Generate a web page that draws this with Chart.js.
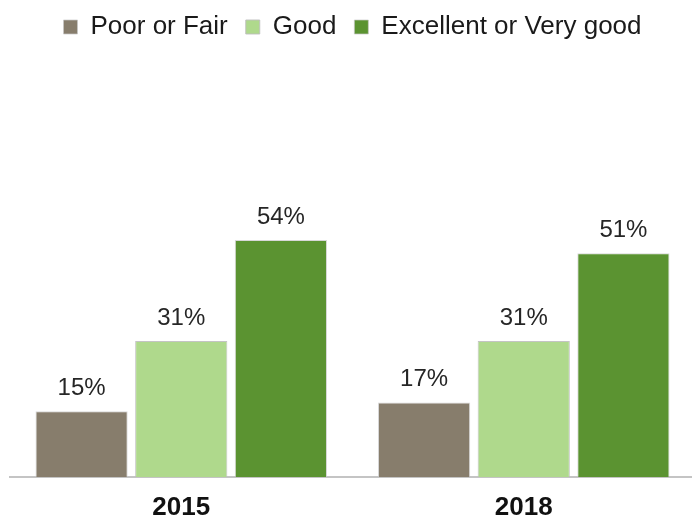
<!DOCTYPE html>
<html>
<head>
<meta charset="utf-8">
<script src="https://cdn.jsdelivr.net/npm/chart.js@4/dist/chart.umd.min.js"></script>
<style>
  html, body { margin: 0; padding: 0; background: #fff; overflow: hidden; }
  .wrap { width: 692px; height: 519px; overflow: hidden; }
</style>
</head>
<body>
<div class="wrap"><canvas id="healthChart" width="695" height="519"></canvas></div>
<script>
// Données
const years = ['2015', '2018'];
const poorOrFair = [15, 17];
const good = [31, 31];
const excellentOrVeryGood = [54, 51];

// Étiquettes au-dessus des barres
const valueLabels = {
    id: 'valueLabels',
    afterDatasetsDraw(chart) {
        const ctx = chart.ctx;
        ctx.save();
        ctx.font = '24px "Liberation Sans", Arial, sans-serif';
        ctx.fillStyle = '#262626';
        ctx.textAlign = 'center';
        ctx.textBaseline = 'alphabetic';
        chart.data.datasets.forEach((ds, i) => {
            chart.getDatasetMeta(i).data.forEach((bar, j) => {
                ctx.fillText(ds.data[j] + '%', bar.x, bar.y - 16);
            });
        });
        ctx.restore();
    }
};

const ctx = document.getElementById('healthChart').getContext('2d');
const healthChart = new Chart(ctx, {
    type: 'bar',
    data: {
        labels: years,
        datasets: [{
            label: 'Poor or Fair',
            data: poorOrFair,
            backgroundColor: '#877d6c',
            borderColor: 'rgba(200,200,200,0.7)',
            borderWidth: 1
        }, {
            label: 'Good',
            data: good,
            backgroundColor: '#afd98c',
            borderColor: 'rgba(190,190,190,0.9)',
            borderWidth: 1
        }, {
            label: 'Excellent or Very good',
            data: excellentOrVeryGood,
            backgroundColor: '#5b9331',
            borderColor: 'rgba(200,200,200,0.7)',
            borderWidth: 1
        }]
    },
    options: {
        responsive: false,
        animation: false,
        categoryPercentage: 0.873,
        barPercentage: 0.925,
        layout: { padding: { top: -4, left: 10, right: 0, bottom: 0 } },
        plugins: {
            legend: {
                position: 'top',
                labels: {
                    boxWidth: 14,
                    boxHeight: 14,
                    padding: 18,
                    color: '#1a1a1a',
                    font: { family: '"Liberation Sans", Arial, sans-serif', size: 26 }
                }
            },
            tooltip: { enabled: false }
        },
        scales: {
            x: {
                grid: { display: false, drawTicks: false },
                border: { color: '#c4c4c4', width: 2 },
                ticks: {
                    padding: 15,
                    color: '#111',
                    font: { family: '"Liberation Sans", Arial, sans-serif', size: 26, weight: 'bold' }
                },
                afterFit: (axis) => { axis.height = 42; }
            },
            y: {
                display: false,
                min: 0,
                max: 97.3
            }
        }
    },
    plugins: [valueLabels]
});
</script>
</body>
</html>
